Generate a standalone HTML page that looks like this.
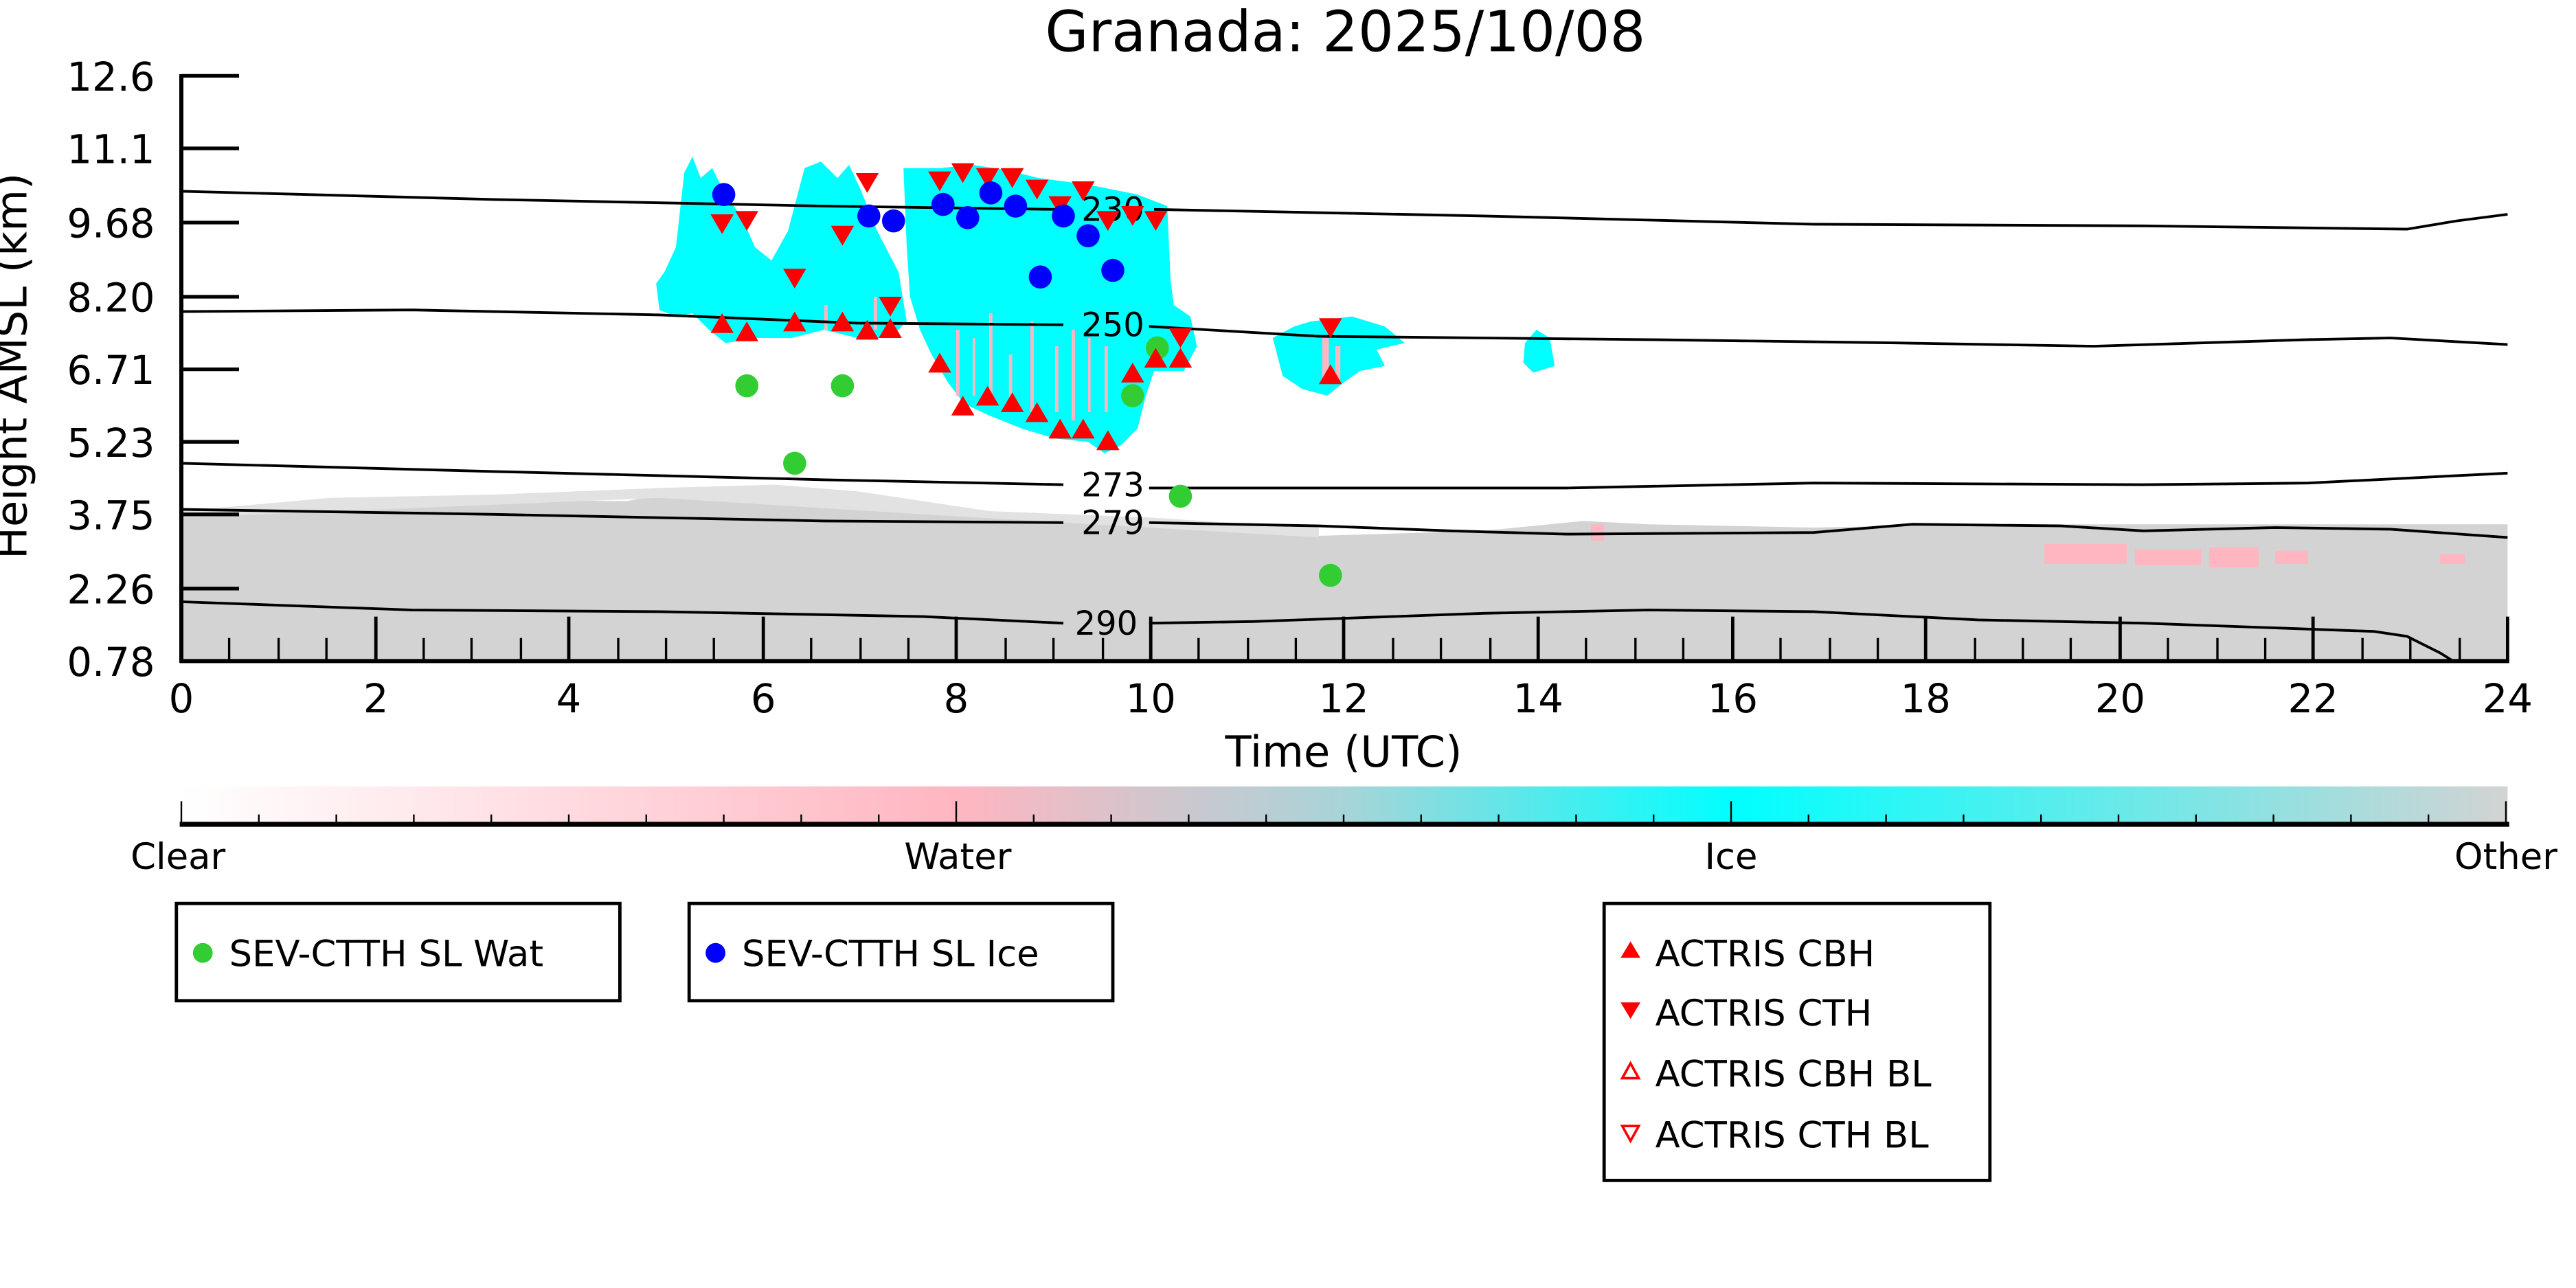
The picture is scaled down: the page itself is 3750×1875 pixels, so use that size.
<!DOCTYPE html>
<html><head><meta charset="utf-8"><style>
html,body{margin:0;padding:0;background:#fff;}
svg{display:block;}
text{font-family:"DejaVu Sans","Liberation Sans",sans-serif;}
</style></head><body>
<svg width="3750" height="1875" viewBox="0 0 1562.5 781.25" xmlns="http://www.w3.org/2000/svg">
<defs>
<linearGradient id="cb" x1="0" x2="1" y1="0" y2="0">
<stop offset="0" stop-color="#ffffff"/>
<stop offset="0.333" stop-color="#ffb6c1"/>
<stop offset="0.5" stop-color="#a8d4d8"/>
<stop offset="0.667" stop-color="#00ffff"/>
<stop offset="1" stop-color="#d3d3d3"/>
</linearGradient>
</defs>
<!-- gray "Other" region -->
<path d="M110,401 L110,310 L200,306 L300,303 L380,304 L400,300 L470,298 L520,302 L560,310 L600,312 L700,318 L760,322 L800,325 L900,322 L960,316 L1000,318 L1100,320 L1200,318 L1300,318 L1400,318 L1521,318 L1521,401 Z" fill="#d3d3d3"/>
<path d="M110,310 L200,302 L300,300 L400,296 L470,294 L520,298 L560,304 L600,310 L700,314 L760,318 L800,320 L800,326 L560,312 L400,302 L110,314 Z" fill="#e2e2e2"/>
<g fill="#ffb6c1">
<rect x="1240" y="330" width="50" height="12"/><rect x="1295" y="333" width="40" height="10"/><rect x="1340" y="332" width="30" height="12"/><rect x="1380" y="334" width="20" height="8"/><rect x="1480" y="336" width="15" height="6"/><rect x="965" y="318" width="8" height="10"/>
</g>
<!-- cyan clouds -->
<g fill="#00ffff">
<path d="M398,172 L403,165 L410,150 L415,105 L420,95 L425,108 L432,102 L440,118 L450,132 L458,150 L468,158 L478,140 L488,102 L498,98 L508,108 L515,100 L522,115 L532,140 L545,165 L550,195 L540,205 L520,205 L500,200 L480,205 L460,205 L440,208 L430,200 L420,190 L410,192 L400,188 Z"/>
<path d="M462,160 L480,155 L490,200 L460,200 Z"/>
<path d="M548,102 L570,102 L590,100 L610,103 L630,108 L660,112 L690,118 L708,125 L710,170 L712,185 L722,192 L726,210 L718,225 L700,225 L695,240 L690,260 L680,270 L670,275 L660,268 L640,266 L620,260 L600,252 L585,245 L575,232 L565,215 L558,200 L552,180 L550,150 Z"/>
<path d="M772,205 L785,198 L795,195 L820,192 L840,198 L852,208 L835,212 L840,222 L825,225 L815,232 L805,240 L790,236 L778,228 Z"/>
<path d="M925,208 L932,200 L940,205 L943,222 L930,226 L924,220 Z"/>
</g>
<g fill="#ffb6c1">
<rect x="580" y="200" width="2" height="40"/><rect x="600" y="190" width="2" height="50"/><rect x="625" y="195" width="2" height="55"/><rect x="650" y="200" width="2" height="55"/><rect x="670" y="210" width="2" height="40"/><rect x="612" y="215" width="2" height="30"/><rect x="640" y="210" width="2" height="40"/><rect x="590" y="205" width="1.5" height="35"/><rect x="660" y="205" width="1.5" height="45"/><rect x="802" y="205" width="4" height="25"/><rect x="810" y="210" width="3" height="20"/><rect x="500" y="185" width="2" height="15"/><rect x="530" y="180" width="2" height="20"/>
</g>
<!-- contours -->
<g fill="none" stroke="#000" stroke-width="1.6">
<path d="M110,116 L300,121 L500,125 L640,127 M700,127 L900,131 L1100,136 L1300,137 L1460,139 L1490,134 L1521,130"/>
<path d="M110,189 L250,188 L400,191 L520,196 L645,197 M697,198 L800,204 L1000,206 L1150,208 L1270,210 L1400,206 L1450,205 L1521,209"/>
<path d="M110,281 L300,286 L500,291 L645,294 M697,296 L800,296 L950,296 L1100,293 L1300,294 L1400,293 L1521,287"/>
<path d="M110,309 L300,312 L500,316 L645,317 M697,317 L800,319 L880,322 L950,324 L1100,323 L1160,318 L1250,319 L1300,322 L1380,320 L1450,321 L1521,326"/>
<path d="M110,365 L250,370 L400,371 L560,374 L645,378 M697,378 L760,377 L900,372 L1000,370 L1100,371 L1200,376 L1300,378 L1440,383 L1460,386 L1480,396 L1488,401"/>
</g>
<g font-size="20" text-anchor="middle" fill="#000">
<text x="675" y="134">230</text>
<text x="675" y="204">250</text>
<text x="675" y="301">273</text>
<text x="675" y="324">279</text>
<text x="671" y="385">290</text>
</g>
<!-- markers -->
<g fill="#32cd32">
<circle cx="453" cy="234" r="7"/><circle cx="511" cy="234" r="7"/><circle cx="482" cy="281" r="7"/><circle cx="687" cy="240" r="7"/><circle cx="702" cy="211" r="7"/><circle cx="716" cy="301" r="7"/><circle cx="807" cy="349" r="7"/>
</g>
<g fill="red">
<path d="M438,190l7,12h-14z M453,195l7,12h-14z M482,189l7,12h-14z M511,189l7,12h-14z M526,194l7,12h-14z M540,193l7,12h-14z M570,214l7,12h-14z M584,240l7,12h-14z M599,234l7,12h-14z M614,238l7,12h-14z M629,244l7,12h-14z M643,254l7,12h-14z M657,254l7,12h-14z M672,261l7,12h-14z M687,220l7,12h-14z M701,211l7,12h-14z M716,211l7,12h-14z M807,221l7,12h-14z"/>
<path d="M431,130h14l-7,12z M446,128h14l-7,12z M475,163h14l-7,12z M504,137h14l-7,12z M519,105h14l-7,12z M533,180h14l-7,12z M563,104h14l-7,12z M577,99h14l-7,12z M592,102h14l-7,12z M607,102h14l-7,12z M622,109h14l-7,12z M636,119h14l-7,12z M650,110h14l-7,12z M665,128h14l-7,12z M680,125h14l-7,12z M694,128h14l-7,12z M709,199h14l-7,12z M800,193h14l-7,12z"/>
</g>
<g fill="#0000ff">
<circle cx="439" cy="118" r="7"/><circle cx="527" cy="131" r="7"/><circle cx="542" cy="134" r="7"/><circle cx="572" cy="124" r="7"/><circle cx="587" cy="132" r="7"/><circle cx="601" cy="117" r="7"/><circle cx="616" cy="125" r="7"/><circle cx="631" cy="168" r="7"/><circle cx="645" cy="131" r="7"/><circle cx="660" cy="143" r="7"/><circle cx="675" cy="164" r="7"/>
</g>
<!-- axes -->
<g stroke="#000" fill="none">
<path d="M110,45 V402 M109,401 H1522" stroke-width="2.5"/>
<path d="M110,46h35 M110,90h35 M110,135h35 M110,180h35 M110,224h35 M110,268h35 M110,312h35 M110,357h35" stroke-width="2.2"/>
<path d="M228,401v-27 M345,401v-27 M463,401v-27 M580,401v-27 M698,401v-27 M815,401v-27 M933,401v-27 M1051,401v-27 M1168,401v-27 M1286,401v-27 M1403,401v-27 M1521,401v-27" stroke-width="2"/>
<path d="M139,401v-14 M169,401v-14 M198,401v-14 M257,401v-14 M286,401v-14 M316,401v-14 M375,401v-14 M404,401v-14 M433,401v-14 M492,401v-14 M522,401v-14 M551,401v-14 M610,401v-14 M639,401v-14 M669,401v-14 M727,401v-14 M757,401v-14 M786,401v-14 M845,401v-14 M874,401v-14 M904,401v-14 M962,401v-14 M992,401v-14 M1021,401v-14 M1080,401v-14 M1110,401v-14 M1139,401v-14 M1198,401v-14 M1227,401v-14 M1256,401v-14 M1315,401v-14 M1345,401v-14 M1374,401v-14 M1433,401v-14 M1462,401v-14 M1492,401v-14" stroke-width="1.4"/>
</g>
<g font-size="24" fill="#000" text-anchor="end">
<text x="94" y="55">12.6</text><text x="94" y="99">11.1</text><text x="94" y="144">9.68</text><text x="94" y="189">8.20</text><text x="94" y="233">6.71</text><text x="94" y="277">5.23</text><text x="94" y="321">3.75</text><text x="94" y="366">2.26</text><text x="94" y="410">0.78</text>
</g>
<g font-size="24" fill="#000" text-anchor="middle">
<text x="110" y="432">0</text><text x="228" y="432">2</text><text x="345" y="432">4</text><text x="463" y="432">6</text><text x="580" y="432">8</text><text x="698" y="432">10</text><text x="815" y="432">12</text><text x="933" y="432">14</text><text x="1051" y="432">16</text><text x="1168" y="432">18</text><text x="1286" y="432">20</text><text x="1403" y="432">22</text><text x="1521" y="432">24</text>
<text x="815" y="465" font-size="26">Time (UTC)</text>
<text x="816" y="31" font-size="34">Granada: 2025/10/08</text>
<text x="0" y="0" font-size="26" transform="translate(16,222) rotate(-90)">Height AMSL (km)</text>
</g>
<!-- colorbar -->
<rect x="110" y="477" width="1411" height="23" fill="url(#cb)"/>
<path d="M109,500H1522" stroke="#000" stroke-width="3"/>
<g stroke="#000" stroke-width="1">
<path d="M110,500v-14 M580,500v-14 M1050,500v-14 M1520,500v-14"/>
<path d="M157,500v-6 M204,500v-6 M251,500v-6 M298,500v-6 M345,500v-6 M392,500v-6 M439,500v-6 M486,500v-6 M533,500v-6 M627,500v-6 M674,500v-6 M721,500v-6 M768,500v-6 M815,500v-6 M862,500v-6 M909,500v-6 M956,500v-6 M1003,500v-6 M1097,500v-6 M1144,500v-6 M1191,500v-6 M1238,500v-6 M1285,500v-6 M1332,500v-6 M1379,500v-6 M1426,500v-6 M1473,500v-6"/>
</g>
<g font-size="22" fill="#000" text-anchor="middle">
<text x="108" y="527">Clear</text><text x="581" y="527">Water</text><text x="1050" y="527">Ice</text><text x="1520" y="527">Other</text>
</g>
<!-- legends -->
<g fill="none" stroke="#000">
<rect x="107" y="548" width="269" height="59" stroke-width="2"/>
<rect x="418" y="548" width="257" height="59" stroke-width="2"/>
<rect x="973" y="548" width="234" height="168" stroke-width="2"/>
</g>
<g font-size="22" fill="#000">
<circle cx="123" cy="578" r="6" fill="#32cd32"/><text x="139" y="586">SEV-CTTH SL Wat</text>
<circle cx="434" cy="578" r="6" fill="#0000ff"/><text x="450" y="586">SEV-CTTH SL Ice</text>
<path d="M989,571l6,10h-12z" fill="red"/><text x="1004" y="586">ACTRIS CBH</text>
<path d="M983,608h12l-6,10z" fill="red"/><text x="1004" y="622">ACTRIS CTH</text>
<path d="M989,645l5,9h-10z" fill="none" stroke="red" stroke-width="1.5"/><text x="1004" y="659">ACTRIS CBH BL</text>
<path d="M984,683h10l-5,9z" fill="none" stroke="red" stroke-width="1.5"/><text x="1004" y="696">ACTRIS CTH BL</text>
</g>
</svg>
</body></html>
